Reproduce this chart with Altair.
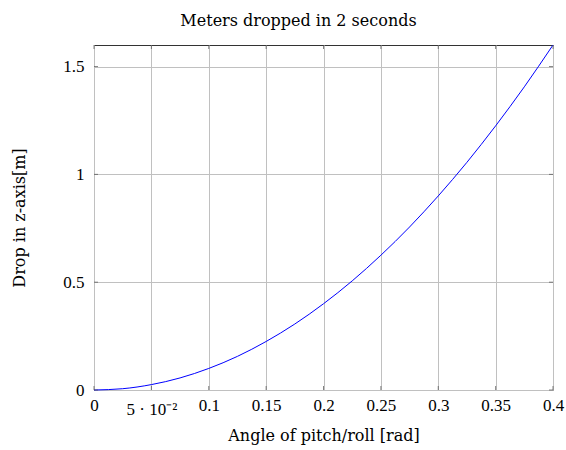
import altair as alt
import pandas as pd

angle = [0.0, 0.025, 0.05, 0.075, 0.1, 0.125, 0.15, 0.175, 0.2, 0.225, 0.25,
         0.275, 0.3, 0.325, 0.35, 0.375, 0.4]
drop = [0.0, 0.006, 0.025, 0.056, 0.1, 0.156, 0.225, 0.306, 0.4, 0.506, 0.625,
        0.756, 0.9, 1.056, 1.225, 1.406, 1.6]
x_ticks = [0, 0.05, 0.1, 0.15, 0.2, 0.25, 0.3, 0.35, 0.4]
y_ticks = [0, 0.5, 1, 1.5]

df = pd.DataFrame({"angle": angle, "drop": drop})
xt = pd.DataFrame({"angle": x_ticks})
yt = pd.DataFrame({"drop": y_ticks})
FONT = "Liberation Serif"
TFONT = "DejaVu Serif"
TICK = "#4d4d4d"

xscale = alt.Scale(domain=[0, 0.4], nice=False, zero=False)
yscale = alt.Scale(domain=[0, 1.6], nice=False)

line = alt.Chart(df).mark_line(color="#0000ff", strokeWidth=1, interpolate="monotone").encode(
    x=alt.X("angle:Q", scale=xscale,
            axis=alt.Axis(values=x_ticks, title="Angle of pitch/roll [rad]",
                          labelExpr="datum.value == 0.05 ? '5 · 10⁻²' : (datum.value == 0 ? '0' : format(datum.value, ''))",
                          labelPadding={"condition": {"test": "datum.value == 0.05", "value": 11}, "value": 7},
                          labelFlush=False, labelOverlap=False,
                          titlePadding=10)),
    y=alt.Y("drop:Q", scale=yscale,
            axis=alt.Axis(values=y_ticks, title="Drop in z-axis[m]", titlePadding=35,
                          labelExpr="format(datum.value, '')",
                          labelFlush=False, labelOverlap=False,
                          labelPadding=10)),
)

bt = alt.Chart(xt).mark_tick(orient="vertical", size=4, thickness=1, color=TICK, yOffset=-2).encode(
    x=alt.X("angle:Q", scale=xscale), y=alt.datum(0))
tt = alt.Chart(xt).mark_tick(orient="vertical", size=4, thickness=1, color=TICK, yOffset=2).encode(
    x=alt.X("angle:Q", scale=xscale), y=alt.datum(1.6))
lt = alt.Chart(yt).mark_tick(orient="horizontal", size=4, thickness=1, color=TICK, xOffset=2).encode(
    y=alt.Y("drop:Q", scale=yscale), x=alt.datum(0))
rt = alt.Chart(yt).mark_tick(orient="horizontal", size=4, thickness=1, color=TICK, xOffset=-2).encode(
    y=alt.Y("drop:Q", scale=yscale), x=alt.datum(0.4))

chart = alt.layer(line, bt, tt, lt, rt).properties(
    width=459, height=345,
    title=alt.TitleParams("Meters dropped in 2 seconds", font=TFONT, fontSize=16,
                          fontWeight="normal", color="#000", offset=14, dx=-25),
    autosize=alt.AutoSizeParams(type="none"),
    padding={"left": 94, "top": 45, "right": 13, "bottom": 60},
).configure_axis(
    labelFont=FONT, titleFont=TFONT, labelFontSize=17, titleFontSize=16,
    titleFontWeight="normal", labelColor="#000", titleColor="#000",
    grid=True, gridColor="#c0c0c0", gridWidth=1,
    domain=False, ticks=False,
).configure_view(stroke="#333", strokeWidth=1)

chart.save("out.html", embed_options={"renderer": "svg", "actions": False})
